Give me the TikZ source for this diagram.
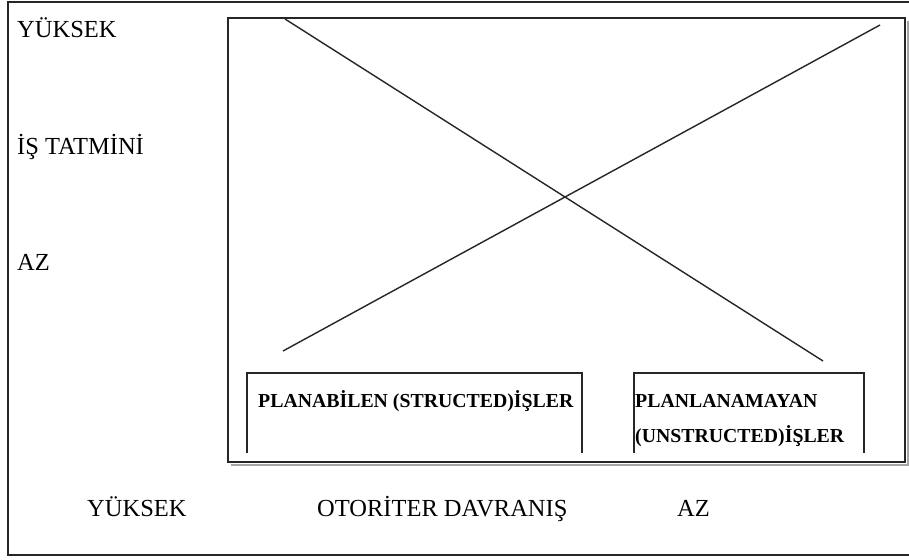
\documentclass[tikz,border=0pt]{standalone}
\usepackage{fontspec}
\setmainfont{Liberation Serif}
\begin{document}
\begin{tikzpicture}[x=1pt,y=-1pt,
  lbl/.style={inner sep=0pt, anchor=base west, font=\fontsize{24.5}{29}\selectfont},
  boxlbl/.style={inner sep=0pt, anchor=base west, font=\fontsize{19.8}{24}\selectfont\bfseries},
  frame/.style={draw=black!85, line width=1.6pt},
  thin/.style={draw=black!85, line width=1.4pt},
  shadow/.style={draw=black!35, line width=1.6pt}]
\useasboundingbox (0,0) rectangle (909,559);
\clip (0,0) rectangle (909,559);
\fill[white] (0,0) rectangle (909,559);
% outer frame (right edge off the picture)
\draw[frame] (8,2) rectangle (920,555);
% inner frame with shadow
\draw[shadow] (908,21) -- (908,465) -- (231,465);
\draw[frame] (228,18) rectangle (905,462);
% diagonals
\coordinate (a1) at (285,19);
\coordinate (a2) at (823,361);
\coordinate (b1) at (283,351);
\coordinate (b2) at (880,25);
\draw[thin] (a1) -- (a2);
\draw[thin] (b1) -- (b2);
% open boxes
\coordinate (p1) at (247,453);
\coordinate (p2) at (247,373);
\coordinate (p3) at (582,373);
\coordinate (p4) at (582,453);
\draw[thin] (p1) -- (p2) -- (p3) -- (p4);
\coordinate (q1) at (634,453);
\coordinate (q2) at (634,373);
\coordinate (q3) at (864,373);
\coordinate (q4) at (864,453);
\draw[thin] (q1) -- (q2) -- (q3) -- (q4);
% labels
\node[lbl] (y1) at (17,38) {YÜKSEK};
\node[lbl] (is) at (17,154) {İŞ TATMİNİ};
\node[lbl] (az1) at (17,270) {AZ};
\node[boxlbl] (plan) at (258,407) {PLANABİLEN (STRUCTED)İŞLER};
\node[boxlbl] (unpl1) at (635,407) {PLANLANAMAYAN};
\node[boxlbl] (unpl2) at (635,442) {(UNSTRUCTED)İŞLER};
\node[lbl] (y2) at (87,516) {YÜKSEK};
\node[lbl] (oto) at (317,516) {OTORİTER DAVRANIŞ};
\node[lbl] (az2) at (677,516) {AZ};
\end{tikzpicture}
\end{document}
